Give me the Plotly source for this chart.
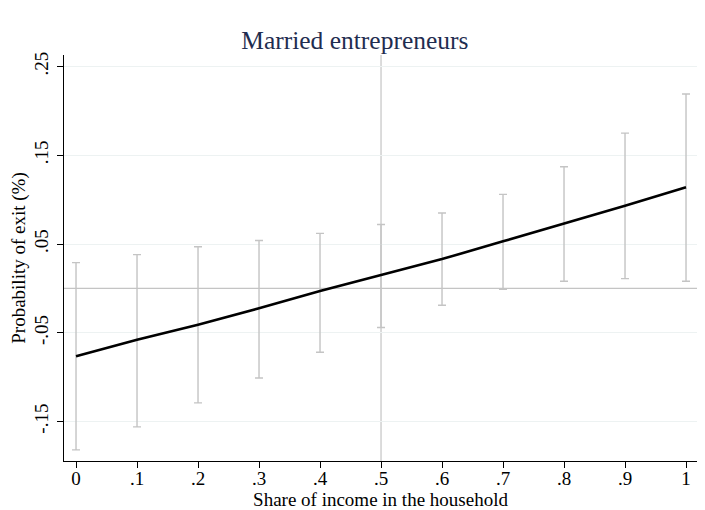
import plotly.graph_objects as go

share = [0.0, 0.1, 0.2, 0.3, 0.4, 0.5, 0.6, 0.7, 0.8, 0.9, 1.0]
fitted = [-0.0766, -0.058, -0.041, -0.0225, -0.003, 0.015, 0.033, 0.053, 0.073, 0.093, 0.114]
ci_upper = [0.029, 0.038, 0.047, 0.054, 0.062, 0.072, 0.085, 0.106, 0.137, 0.175, 0.219]
ci_lower = [-0.182, -0.156, -0.129, -0.101, -0.072, -0.044, -0.019, -0.001, 0.008, 0.011, 0.008]

x_ticks = [0, 0.1, 0.2, 0.3, 0.4, 0.5, 0.6, 0.7, 0.8, 0.9, 1.0]
x_labels = ["0", ".1", ".2", ".3", ".4", ".5", ".6", ".7", ".8", ".9", "1"]
y_ticks = [-0.15, -0.05, 0.05, 0.15, 0.25]
y_labels = ["-.15", "-.05", ".05", ".15", ".25"]

FONT = "Liberation Serif"
GRAY = "#c4c4c4"

fig = go.Figure()

mid = [(u + l) / 2 for u, l in zip(ci_upper, ci_lower)]
half = [(u - l) / 2 for u, l in zip(ci_upper, ci_lower)]
fig.add_trace(go.Scatter(
    x=share, y=mid, mode="markers",
    marker=dict(size=0.1, color="rgba(0,0,0,0)"),
    error_y=dict(type="data", array=half, visible=True, color=GRAY, thickness=1.4, width=4),
    showlegend=False, hoverinfo="skip",
))

fig.add_trace(go.Scatter(
    x=share, y=fitted, mode="lines",
    line=dict(color="black", width=2.6),
    showlegend=False,
))

fig.add_shape(type="line", xref="x", yref="paper", x0=0.5, x1=0.5, y0=0, y1=1,
              line=dict(color=GRAY, width=1.2), layer="below")
fig.add_shape(type="line", xref="paper", yref="y", x0=0, x1=1, y0=0, y1=0,
              line=dict(color=GRAY, width=1.2), layer="below")

fig.update_layout(
    width=705, height=510,
    margin=dict(l=56, r=16, t=47, b=57, autoexpand=False),
    paper_bgcolor="white", plot_bgcolor="white",
    font=dict(family=FONT, color="black", size=19),
    title=dict(text="Married entrepreneurs", x=0.492, xanchor="center", y=0.937, yanchor="middle",
               font=dict(family=FONT, size=25.5, color="#1f2d50")),
    xaxis=dict(range=[-0.0197, 1.018], tickvals=x_ticks, ticktext=x_labels,
               showgrid=False, zeroline=False, showline=True, linecolor="black", linewidth=1,
               ticks="outside", ticklen=6, tickcolor="black", tickfont=dict(size=19),
               ticklabelstandoff=-6, automargin=True,
               title=dict(text="Share of income in the household", font=dict(size=19), standoff=0)),
    yaxis=dict(range=[-0.1945, 0.263], tickvals=y_ticks, ticktext=y_labels, tickangle=-90,
               showgrid=True, gridcolor="#edf2f2", gridwidth=1, zeroline=False,
               showline=True, linecolor="black", linewidth=1,
               ticks="outside", ticklen=6, tickcolor="black", tickfont=dict(size=19),
               ticklabelstandoff=1, automargin=True,
               title=dict(text="Probability of exit (%)", font=dict(size=19), standoff=2)),
)

fig.write_html("out.html")
